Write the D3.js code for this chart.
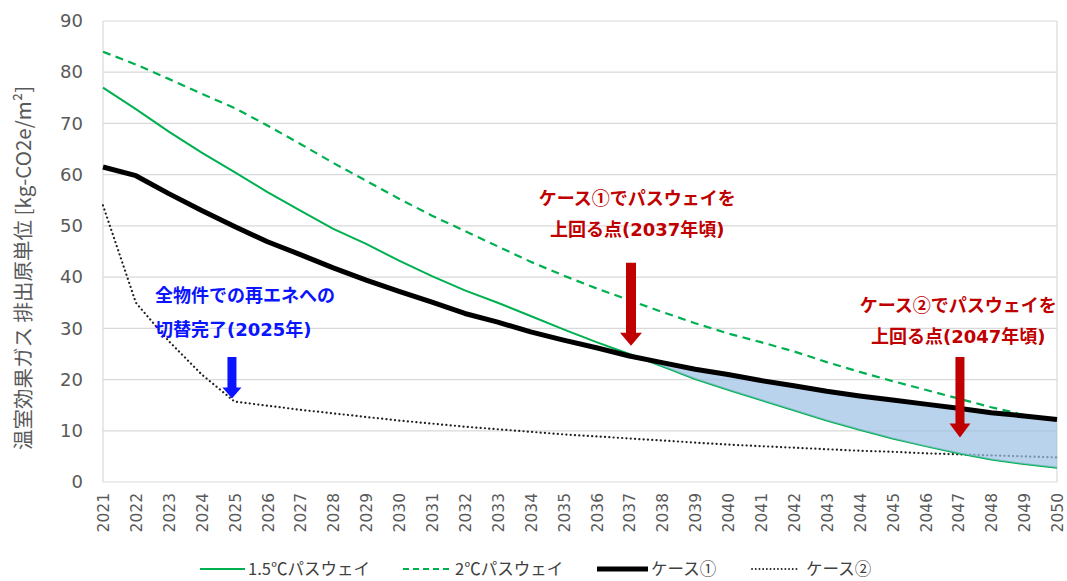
<!DOCTYPE html>
<html><head><meta charset="utf-8">
<script src="https://cdn.jsdelivr.net/npm/d3@7"></script>
<style>
body{margin:0;background:#fff;}
svg{display:block;}
</style></head>
<body><svg id="c" width="1067" height="581"></svg>
<script>
const years = d3.range(2021, 2051);
const path15 = [77,72.8,68.4,64.3,60.5,56.6,53,49.4,46.5,43.2,40.2,37.4,35,32.4,29.8,27.3,25,22.6,20.1,18,16,14,12,10.2,8.5,7,5.6,4.4,3.5,2.8];
const path2 = [84,81.5,78.7,75.8,73,69.6,66,62.3,58.8,55.3,52,49,46,43,40.3,37.8,35.5,33.2,31,29,27.3,25.5,23.4,21.5,19.7,18,16.3,14.6,13.1,12.1];
const case1 = [61.5,59.8,56.3,53,49.9,46.9,44.4,41.8,39.4,37.2,35.1,32.9,31.2,29.3,27.7,26.2,24.6,23.3,22,21,19.8,18.8,17.7,16.8,16,15.2,14.4,13.5,12.9,12.2];
const case2 = [54,35,27.5,21,15.7,14.9,14.1,13.4,12.7,12,11.4,10.8,10.3,9.8,9.3,8.9,8.5,8.1,7.7,7.3,7,6.7,6.4,6.1,5.9,5.6,5.4,5.2,5,4.8];
const yTicks = [0,10,20,30,40,50,60,70,80,90];
const seriesNames = ["1.5℃パスウェイ","2℃パスウェイ","ケース①","ケース②"];
const yTitle = "温室効果ガス 排出原単位 [kg-CO2e/m²]";
const shadeFrom = 2037;
const notes = [
  {lines:["全物件での再エネへの","切替完了(2025年)"], color:"#0a14ff", anchor:"start", tx:2022.58, ty:[36.4,29.7], ax:2024.92, ay0:24.4, ay1:16.3, shaft:9, head:19, headH:11},
  {lines:["ケース①でパスウェイを","上回る点(2037年頃)"], color:"#c00000", anchor:"middle", tx:2037.24, ty:[55.3,49.2], ax:2037.05, ay0:42.8, ay1:26.6, shaft:10, head:22, headH:13},
  {lines:["ケース②でパスウェイを","上回る点(2047年頃)"], color:"#c00000", anchor:"middle", tx:2047.0, ty:[34.4,28.3], ax:2047.05, ay0:24.4, ay1:8.7, shaft:9, head:21, headH:14}
];

const svg = d3.select("#c");
const L=103, R=1057, T=21, B=482;
const x = d3.scaleLinear().domain([2021,2050]).range([L,R]);
const y = d3.scaleLinear().domain([0,90]).range([B,T]);
const jp = "'Noto Sans CJK JP','Noto Sans',sans-serif";
const jpLat = "'DejaVu Sans','Noto Sans CJK JP',sans-serif";

// gridlines
svg.append("g").selectAll("line").data(yTicks).join("line")
  .attr("x1",L).attr("x2",R).attr("y1",d=>y(d)).attr("y2",d=>y(d))
  .attr("stroke","#d9d9d9").attr("stroke-width",1.2);
svg.append("line").attr("x1",L).attr("x2",L).attr("y1",T).attr("y2",B).attr("stroke","#d9d9d9").attr("stroke-width",1.2);
svg.append("line").attr("x1",R).attr("x2",R).attr("y1",T).attr("y2",B).attr("stroke","#d9d9d9").attr("stroke-width",1.2);

// y axis
const yAxis = svg.append("g").attr("transform",`translate(${L},0)`).call(d3.axisLeft(y).tickValues(yTicks).tickSize(0).tickPadding(20));
yAxis.select(".domain").remove();
yAxis.selectAll("text").attr("font-family","'DejaVu Sans',sans-serif").attr("font-size",18).attr("fill","#595959");

// x axis
const xAxis = svg.append("g").attr("transform",`translate(0,${B})`).call(d3.axisBottom(x).tickValues(years).tickFormat(d3.format("d")).tickSize(0));
xAxis.select(".domain").remove();
xAxis.selectAll("text").attr("font-family","'DejaVu Sans',sans-serif").attr("font-size",15.5).attr("fill","#595959")
  .attr("text-anchor","end").attr("transform","rotate(-90)").attr("x",-11).attr("y",0).attr("dy","0.36em");

// y title
svg.append("text").attr("transform",`translate(31,268) rotate(-90)`).attr("text-anchor","middle")
  .attr("font-family",jp).attr("font-size",20.5).attr("fill","#595959").text(yTitle);

const line = arr => d3.line().x((d,i)=>x(years[i])).y(d=>y(d))(arr);

// case2 dotted
svg.append("path").attr("d",line(case2)).attr("fill","none").attr("stroke","#222").attr("stroke-width",2.2)
  .attr("stroke-dasharray","0.1 4.2").attr("stroke-linecap","round");
// 1.5 solid
svg.append("path").attr("d",line(path15)).attr("fill","none").attr("stroke","#00b050").attr("stroke-width",2);
// shaded area
const idx = years.map((d,i)=>i).filter(i=>years[i]>=shadeFrom);
svg.append("path").datum(idx).attr("d",d3.area().x(i=>x(years[i])).y0(i=>y(path15[i])).y1(i=>y(case1[i])))
  .attr("fill","#9dc0e6").attr("fill-opacity",0.7);
// 2 dashed
svg.append("path").attr("d",line(path2)).attr("fill","none").attr("stroke","#00b050").attr("stroke-width",2.2)
  .attr("stroke-dasharray","8 5.5");
// case1 black
svg.append("path").attr("d",line(case1)).attr("fill","none").attr("stroke","#000").attr("stroke-width",5).attr("stroke-linejoin","round");

// annotations
notes.forEach(n=>{
  n.lines.forEach((t,k)=>{
    const te = svg.append("text").attr("x",x(n.tx)).attr("y",y(n.ty[k])).attr("dy","0.35em").attr("text-anchor",n.anchor)
      .attr("font-family",jpLat).attr("font-weight","bold").attr("font-size",18).attr("fill",n.color);
    t.split(/([①②])/).filter(s=>s.length).forEach(s=>{
      const sp = te.append("tspan").text(s);
      if (/[①②]/.test(s)) sp.attr("font-family",jp);
    });
  });
  const ax=x(n.ax), a0=y(n.ay0), a1=y(n.ay1);
  const hs=n.shaft/2, hh=n.head/2;
  const pts=[[ax-hs,a0],[ax+hs,a0],[ax+hs,a1-n.headH],[ax+hh,a1-n.headH],[ax,a1],[ax-hh,a1-n.headH],[ax-hs,a1-n.headH]];
  svg.append("polygon").attr("points",pts.map(p=>p.join(",")).join(" ")).attr("fill",n.color);
});

// legend
const leg = [
  {x0:200,x1:245,tx:248,stroke:"#00b050",w:2,dash:null},
  {x0:403,x1:452,tx:455,stroke:"#00b050",w:2.2,dash:"6 4"},
  {x0:597,x1:648,tx:651,stroke:"#000",w:5,dash:null},
  {x0:752,x1:800,tx:806,stroke:"#222",w:1.8,dash:"0.1 3.6"}
];
leg.forEach((l,i)=>{
  svg.append("line").attr("x1",l.x0).attr("x2",l.x1).attr("y1",569).attr("y2",569).attr("stroke",l.stroke)
    .attr("stroke-width",l.w).attr("stroke-dasharray",l.dash).attr("stroke-linecap",l.dash&&l.dash.startsWith("0.1")?"round":"butt");
  svg.append("text").attr("x",l.tx).attr("y",569).attr("dy","0.35em").attr("font-family",jp).attr("font-size",16.5)
    .attr("fill","#404040").text(seriesNames[i]);
});
</script></body></html>
